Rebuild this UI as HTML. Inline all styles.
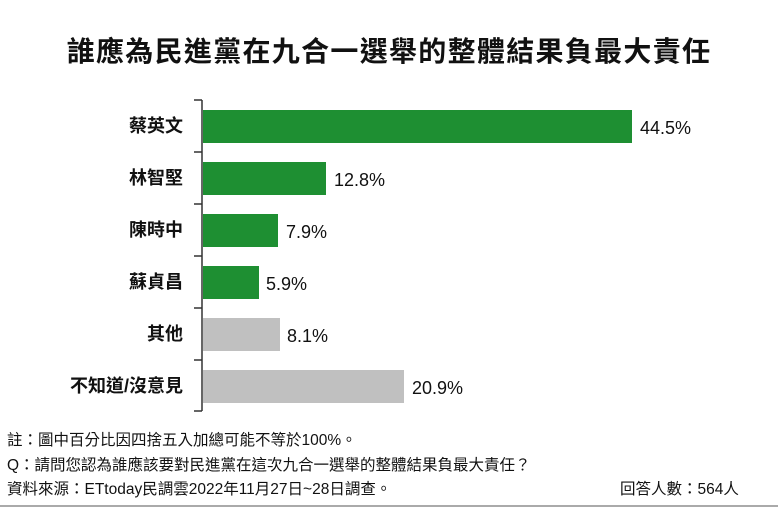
<!DOCTYPE html>
<html><head><meta charset="utf-8"><style>
body{margin:0;width:778px;height:508px;background:#fff;position:relative;overflow:hidden;font-family:"Liberation Sans","Noto Sans CJK TC",sans-serif;color:#111}
.t{position:absolute;left:0;width:778px;top:30px;text-align:center;font-size:28px;font-weight:bold;letter-spacing:1.3px}
.l{position:absolute;right:595px;font-size:18px;line-height:33px;font-weight:600}
.b{position:absolute;left:203px;height:33px}
.v{position:absolute;font-size:18px;line-height:33px}
.f{position:absolute;left:7px;font-size:15.5px;line-height:20px}
</style></head><body>
<div class="t">誰應為民進黨在九合一選舉的整體結果負最大責任</div>
<svg style="position:absolute;left:0;top:0" width="778" height="508">
<g stroke="#333" stroke-width="1.5" fill="none">
<line x1="202" y1="100" x2="202" y2="411"/>
<line x1="194" y1="100" x2="202" y2="100"/><line x1="194" y1="152" x2="202" y2="152"/>
<line x1="194" y1="204" x2="202" y2="204"/><line x1="194" y1="256" x2="202" y2="256"/>
<line x1="194" y1="308" x2="202" y2="308"/><line x1="194" y1="360" x2="202" y2="360"/>
<line x1="194" y1="411" x2="202" y2="411"/>
</g>
<line x1="0" y1="506" x2="778" y2="506" stroke="#aaa" stroke-width="2"/>
</svg>
<div class="l" style="top:110px">蔡英文</div><div class="b" style="top:110px;width:429px;background:#1e8f32"></div><div class="v" style="top:112px;left:640px">44.5%</div>
<div class="l" style="top:162px">林智堅</div><div class="b" style="top:162px;width:123px;background:#1e8f32"></div><div class="v" style="top:164px;left:334px">12.8%</div>
<div class="l" style="top:214px">陳時中</div><div class="b" style="top:214px;width:75px;background:#1e8f32"></div><div class="v" style="top:216px;left:286px">7.9%</div>
<div class="l" style="top:266px">蘇貞昌</div><div class="b" style="top:266px;width:56px;background:#1e8f32"></div><div class="v" style="top:268px;left:266px">5.9%</div>
<div class="l" style="top:318px">其他</div><div class="b" style="top:318px;width:77px;background:#c0c0c0"></div><div class="v" style="top:320px;left:287px">8.1%</div>
<div class="l" style="top:370px">不知道/沒意見</div><div class="b" style="top:370px;width:201px;background:#c0c0c0"></div><div class="v" style="top:372px;left:412px">20.9%</div>
<div class="f" style="top:431px">註：圖中百分比因四捨五入加總可能不等於100%。</div>
<div class="f" style="top:456px">Q：請問您認為誰應該要對民進黨在這次九合一選舉的整體結果負最大責任？</div>
<div class="f" style="top:480px">資料來源：ETtoday民調雲2022年11月27日~28日調查。</div>
<div class="f" style="top:480px;left:620px">回答人數：564人</div>
</body></html>
